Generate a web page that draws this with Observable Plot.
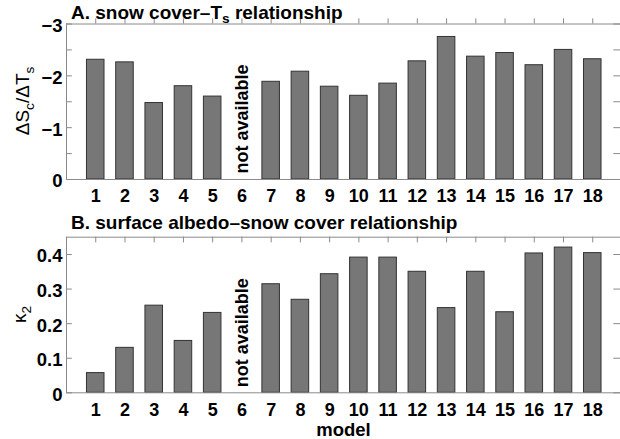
<!DOCTYPE html>
<html>
<head>
<meta charset="utf-8">
<script src="https://cdn.jsdelivr.net/npm/d3@7"></script>
<script src="https://cdn.jsdelivr.net/npm/@observablehq/plot@0.6"></script>
<style>
  html, body { margin: 0; padding: 0; background: white; }
  svg { display: block; }
</style>
</head>
<body>
<div id="chart"></div>
<script>
// ---- data ----
const models = [1,2,3,4,5,6,7,8,9,10,11,12,13,14,15,16,17,18];
const snowTs = [-2.31,-2.26,-1.475,-1.80,-1.60,null,-1.885,-2.08,-1.79,-1.615,-1.85,-2.28,-2.75,-2.37,-2.44,-2.205,-2.50,-2.32];
const albedo = [0.057,0.130,0.252,0.150,0.231,null,0.314,0.269,0.343,0.391,0.391,0.350,0.245,0.350,0.233,0.403,0.420,0.404];
const topTickLabels = [-3,-2,-1,0];
const topTickMarks = [-3,-2.5,-2,-1.5,-1,-0.5,0];
const botTickLabels = [0,0.1,0.2,0.3,0.4];
const missingModel = 6;
const naText = "not available";

const FONT = "'Liberation Sans', Arial, Helvetica, sans-serif";
const FRAME = "#8a8a8a";
const BAR = "#777777";
const BAR_STROKE = "#333333";

function panel({values, height, marginTop, marginBottom, yDomain, tickLabels, tickMarks, tickLen, naY, fmt}) {
  const data = models.map((m, i) => ({model: m, v: values[i]})).filter(d => d.v != null);
  const [y0, y1] = yDomain;
  return Plot.plot({
    width: 620,
    height,
    marginLeft: 66,
    marginRight: 0,
    marginTop,
    marginBottom,
    style: {fontFamily: FONT, background: "white", color: "black", overflow: "visible"},
    x: {domain: [0, 19], range: [66, 621.5]},
    y: {domain: yDomain},
    marks: [
      Plot.rect(data, {x1: d => d.model - 0.3, x2: d => d.model + 0.3, y1: 0, y2: "v",
        fill: BAR, stroke: BAR_STROKE, strokeWidth: 1}),
      Plot.ruleY([y0, y1], {x1: 0, x2: 19, stroke: FRAME, strokeWidth: 1}),
      Plot.ruleX([0, 19], {y1: y0, y2: y1, stroke: FRAME, strokeWidth: 1}),
      Plot.ruleY(tickMarks, {y: d => d, x1: 0, x2: 0.2, stroke: FRAME}),
      Plot.ruleY(tickMarks, {y: d => d, x1: 18.72, x2: 19, stroke: FRAME}),
      Plot.ruleX(models, {x: d => d, y1: y1, y2: y1 - tickLen, stroke: FRAME}),
      Plot.axisY(tickLabels, {tickSize: 0, tickPadding: 4, fontSize: 18.5, fontWeight: "bold",
        fill: "black", dy: 2, label: null, tickFormat: fmt}),
      Plot.axisX(models, {tickSize: 0, tickPadding: 10, fontSize: 18, fontWeight: "bold",
        fill: "black", label: null, tickFormat: d => String(d)}),
      Plot.text([naText], {x: missingModel, y: naY, text: d => d, rotate: -90, textAnchor: "start",
        fontWeight: "bold", fontSize: 18, fill: "black"})
    ]
  });
}

function addText(svg, {x, y, rotate = 0, anchor = "start", size, weight, parts}) {
  const t = d3.select(svg).append("text")
    .attr("transform", `translate(${x},${y}) rotate(${rotate})`)
    .attr("text-anchor", anchor)
    .attr("font-family", FONT)
    .attr("font-size", size)
    .attr("font-weight", weight)
    .attr("fill", "black");
  const shift = size * 0.25;
  let lowered = false;
  for (const p of parts) {
    if (typeof p === "string") {
      const s = t.append("tspan").text(p);
      if (lowered) { s.attr("dy", -shift); lowered = false; }
    } else {
      t.append("tspan").attr("font-size", size * 0.72).attr("dy", shift).text(p.sub);
      lowered = true;
    }
  }
}

const topPanel = panel({values: snowTs, height: 205, marginTop: 23.5, marginBottom: 26,
  yDomain: [0, -3], tickLabels: topTickLabels, tickMarks: topTickMarks, tickLen: 0.1, naY: -0.115,
  fmt: d => d === 0 ? "0" : "\u2212" + Math.abs(d)});
addText(topPanel, {x: 71, y: 18.5, size: 19, weight: "bold",
  parts: ["A. snow cover\u2013T", {sub: "s"}, " relationship"]});
addText(topPanel, {x: 29, y: 101, rotate: -90, anchor: "middle", size: 19, weight: "normal",
  parts: ["\u0394S", {sub: "c"}, "/\u0394T", {sub: "s"}]});

const botPanel = panel({values: albedo, height: 234, marginTop: 31.7, marginBottom: 46.7,
  yDomain: [0, 0.45], tickLabels: botTickLabels, tickMarks: botTickLabels, tickLen: 0.0165, naY: 0.016,
  fmt: d => d === 0 ? "0" : d.toFixed(1)});
addText(botPanel, {x: 71, y: 24.3, size: 19, weight: "bold",
  parts: ["B. surface albedo\u2013snow cover relationship"]});
addText(botPanel, {x: 26, y: 109.5, rotate: -90, anchor: "middle", size: 19, weight: "normal",
  parts: ["\u03BA", {sub: "2"}]});
addText(botPanel, {x: 343.5, y: 231, anchor: "middle", size: 18.5, weight: "bold", parts: ["model"]});

document.getElementById("chart").append(topPanel, botPanel);
</script>
</body>
</html>
